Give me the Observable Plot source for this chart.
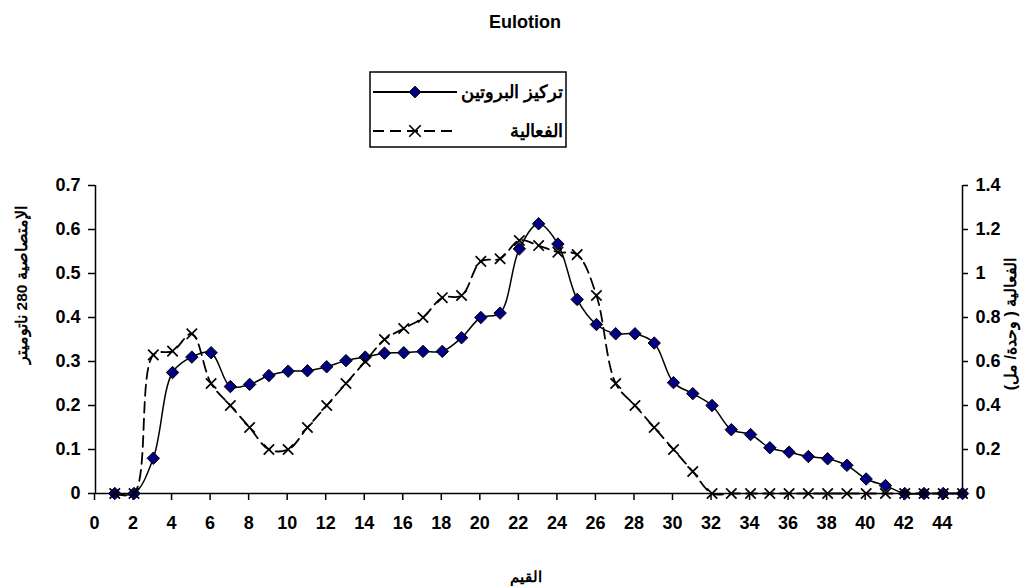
<!DOCTYPE html>
<html><head><meta charset="utf-8">
<script src="https://cdn.jsdelivr.net/npm/d3@7"></script>
<script src="https://cdn.jsdelivr.net/npm/@observablehq/plot@0.6"></script>
<style>
body{margin:0;background:#fff;font-family:"Liberation Sans",Arial,sans-serif;}
#wrap{position:relative;width:1029px;height:587px;overflow:hidden;}
#wrap svg{position:absolute;left:0;top:0;}
.abs{position:absolute;font-weight:bold;color:#000;white-space:nowrap;font-family:"Liberation Sans",Arial,sans-serif;}
.rot{transform:translate(-50%,-50%) rotate(-90deg);}
</style></head><body><div id="wrap"></div>
<script>
const fractions = d3.range(1, 46);
const protein = [0,0,0.08,0.275,0.31,0.32,0.243,0.248,0.268,0.278,0.279,0.288,0.302,0.31,0.319,0.32,0.323,0.323,0.354,0.40,0.41,0.556,0.613,0.567,0.441,0.384,0.363,0.363,0.342,0.252,0.227,0.20,0.145,0.134,0.104,0.094,0.084,0.079,0.064,0.033,0.018,0,0,0,0];
const activity = [0,0,0.63,0.647,0.726,0.5,0.4,0.3,0.2,0.2,0.3,0.4,0.5,0.6,0.7,0.75,0.8,0.89,0.9,1.055,1.067,1.15,1.127,1.097,1.086,0.9,0.5,0.4,0.3,0.2,0.1,0,0,0,0,0,0,0,0,0,0,0,0,0,0];
const xTicks = d3.range(0, 45, 2);
const yLeftTicks = [0, 0.1, 0.2, 0.3, 0.4, 0.5, 0.6, 0.7];
const xDomain = [0, 45];
const yDomain = [0, 0.7];
const rightFactor = 2; // right axis (activity) = left axis value * 2
const title = "Eulotion";
const seriesNames = ["تركيز البروتين", "الفعالية"];
const xLabel = "القيم";
const yLeftLabel = "الإمتصاصية 280 ناتوميتر";
const yRightLabel = "الفعالية ( وحدة/ مل)";

const data = fractions.map((f, i) => ({fraction: f, protein: protein[i], activity: activity[i], actScaled: activity[i] / rightFactor}));

const fmt = v => String(+v.toFixed(1));
const axisFont = {fontSize: 18, fontWeight: "bold"};
const chart = Plot.plot({
  width: 1029, height: 587,
  marginTop: 185, marginBottom: 94, marginLeft: 95, marginRight: 67,
  x: {domain: xDomain},
  y: {domain: yDomain},
  style: {fontFamily: "'Liberation Sans', Arial, sans-serif", fontSize: "18px", fontWeight: "bold", color: "#000", background: "transparent"},
  marks: [
    Plot.axisX({ticks: xTicks, tickSize: 7, tickPadding: 16, tickFormat: d => String(d), label: null, strokeWidth: 1.5, dx: -1, ...axisFont}),
    Plot.axisY({anchor: "left", ticks: yLeftTicks, tickSize: 7, tickPadding: 8, tickFormat: fmt, label: null, strokeWidth: 1.5, ...axisFont}),
    Plot.axisY({anchor: "right", ticks: yLeftTicks, tickSize: 5, tickPadding: 8, tickFormat: d => fmt(d * rightFactor), label: null, strokeWidth: 1.5, ...axisFont}),
    Plot.ruleY([yDomain[0]], {stroke: "#000", strokeWidth: 1.5}),
    Plot.ruleX([xDomain[0]], {stroke: "#000", strokeWidth: 1.5}),
    Plot.ruleX([xDomain[1]], {stroke: "#000", strokeWidth: 1.5}),
    Plot.line(data, {x: "fraction", y: "protein", curve: "catmull-rom", stroke: "#000", strokeWidth: 1.5}),
    Plot.dot(data, {x: "fraction", y: "protein", symbol: "diamond2", r: 5.6, fill: "#000080", stroke: "#000", strokeWidth: 1}),
    Plot.line(data, {x: "fraction", y: "actScaled", curve: "catmull-rom", stroke: "#000", strokeWidth: 1.8, strokeDasharray: "11,6"}),
    Plot.dot(data, {x: "fraction", y: "actScaled", symbol: "times", r: 4.8, stroke: "#000", strokeWidth: 1.7})
  ]
});

const wrap = document.getElementById("wrap");
wrap.appendChild(chart);

function addDiv(text, css, cls) {
  const d = document.createElement("div");
  d.className = "abs " + (cls || "");
  d.textContent = text;
  Object.assign(d.style, css);
  wrap.appendChild(d);
  return d;
}
addDiv(title, {left: "525px", top: "22px", fontSize: "18px", transform: "translate(-50%,-50%)"});
addDiv(xLabel, {left: "526px", top: "577px", fontSize: "15px", transform: "translate(-50%,-50%)"});
addDiv(yLeftLabel, {left: "22px", top: "285px", fontSize: "15.5px"}, "rot");
addDiv(yRightLabel, {left: "1010px", top: "324px", fontSize: "16px"}, "rot");

// legend
const lg = d3.select(wrap).append("svg")
  .attr("width", 198).attr("height", 77)
  .style("left", "369px").style("top", "71px");
lg.append("rect").attr("x", 1).attr("y", 1).attr("width", 196).attr("height", 75)
  .attr("fill", "#fff").attr("stroke", "#000").attr("stroke-width", 1.5);
const rows = [
  {y: 21, dash: null, sym: d3.symbolDiamond2, fill: "#000080"},
  {y: 60, dash: "11,6", sym: d3.symbolTimes, fill: "none"}
];
rows.forEach((r, i) => {
  lg.append("line").attr("x1", 4).attr("x2", 88).attr("y1", r.y).attr("y2", r.y)
    .attr("stroke", "#000").attr("stroke-width", 1.8).attr("stroke-dasharray", r.dash);
  lg.append("path").attr("d", d3.symbol(r.sym, Math.PI * 28)())
    .attr("transform", `translate(46,${r.y})`)
    .attr("fill", r.fill).attr("stroke", "#000").attr("stroke-width", i ? 1.7 : 1);
  lg.append("text").attr("x", 194).attr("y", r.y).attr("dy", "0.35em")
    .attr("text-anchor", "end").attr("font-weight", "bold").attr("font-size", 18)
    .attr("font-family", "'Liberation Sans', Arial, sans-serif")
    .text(seriesNames[i]);
});
</script></body></html>
